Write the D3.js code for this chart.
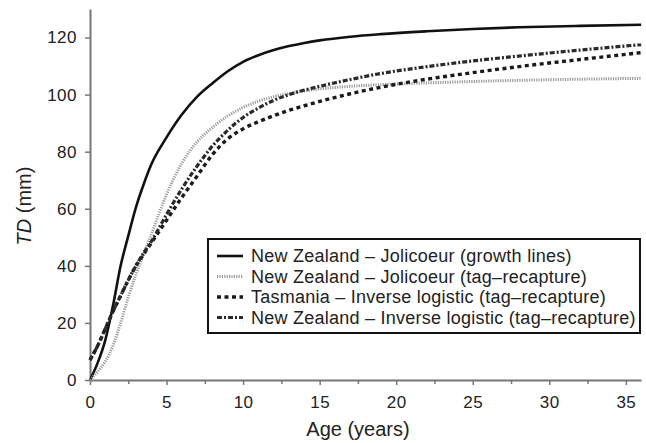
<!DOCTYPE html>
<html>
<head>
<meta charset="utf-8">
<script src="https://cdn.jsdelivr.net/npm/d3@7"></script>
<style>
  body { margin: 0; background: #fff; }
  svg { display: block; font-family: "Liberation Sans", Arial, sans-serif; }
  .tick text { font-size: 17px; fill: #222; letter-spacing: 0.5px; }
  .legend-text { font-size: 18px; fill: #222; letter-spacing: 0.25px; }
</style>
</head>
<body>
<svg width="646" height="443"></svg>
<script>
// ages (years) shared by all curves
const ages = [0, 0.5, 1, 1.5, 2, 2.5, 3, 3.5, 4, 5, 6, 7, 8, 9, 10, 11, 12, 13, 14, 15, 17, 19, 22, 25, 28, 32, 36];

// TD (mm)
const nzJolicoeurGrowth = [0, 6, 14, 26, 40, 50.5, 60.5, 68.5, 75.5, 85, 93, 99.3, 104, 108.2, 111.5, 113.8, 115.6, 117, 118.1, 119, 120.3, 121.2, 122.2, 123, 123.6, 124.1, 124.5];
const nzJolicoeurTag = [0, 3, 6.5, 12, 20, 29, 37, 44, 51, 65, 76, 83.5, 88.5, 92.5, 95.5, 97.7, 99.3, 100.4, 101.3, 102, 102.9, 103.5, 104.1, 104.6, 105, 105.4, 105.7];
const tasInverseLogistic = [7, 12, 18, 24, 29.5, 35, 40, 44, 48, 56, 64, 71.5, 79, 84.5, 88, 90.5, 92.6, 94.5, 96.1, 97.6, 100.3, 102.6, 105.4, 107.7, 109.8, 112.3, 114.7];
const nzInverseLogistic = [7, 12, 18, 24, 29.5, 35, 40, 44.5, 48.5, 58, 67, 75, 82, 87.5, 92, 95.3, 98, 100, 101.6, 102.9, 105.3, 107.4, 109.8, 111.8, 113.5, 115.6, 117.5];

const xTicks = [0, 5, 10, 15, 20, 25, 30, 35];
const xMinorTicks = [2.5, 7.5, 12.5, 17.5, 22.5, 27.5, 32.5];
const yTicks = [0, 20, 40, 60, 80, 100, 120];

const seriesNames = [
    'New Zealand \u2013 Jolicoeur (growth lines)',
    'New Zealand \u2013 Jolicoeur (tag\u2013recapture)',
    'Tasmania \u2013 Inverse logistic (tag\u2013recapture)',
    'New Zealand \u2013 Inverse logistic (tag\u2013recapture)'
];
const seriesValues = [nzJolicoeurGrowth, nzJolicoeurTag, tasInverseLogistic, nzInverseLogistic];

// line styles, same order as the series
const styles = [
    { stroke: '#111', width: 2.6, dash: null },
    { stroke: '#9a9a9a', width: 3, dash: '1.2,1.2' },
    { stroke: '#1a1a1a', width: 3.4, dash: '4,3.5' },
    { stroke: '#2a2a2a', width: 3.2, dash: '5,2,2,2' }
];

const svg = d3.select('svg');
const margin = { top: 9, right: 5, bottom: 63, left: 90 };
const height = +svg.attr('height');

const xScale = d3.scaleLinear()
    .domain([0, 36])
    .range([margin.left, margin.left + 36 * 15.31]);

const yScale = d3.scaleLinear()
    .domain([0, 130])
    .range([height - margin.bottom, margin.top]);

const axisColor = '#777';

// x axis with major and minor ticks
svg.append('g')
    .attr('transform', `translate(0, ${yScale(0)})`)
    .call(d3.axisBottom(xScale).tickValues(xTicks).tickSize(5).tickPadding(11).tickSizeOuter(0));

svg.append('g')
    .attr('transform', `translate(0, ${yScale(0)})`)
    .call(d3.axisBottom(xScale).tickValues(xMinorTicks).tickSize(4).tickFormat('').tickSizeOuter(0))
    .select('.domain').remove();

// y axis
svg.append('g')
    .attr('transform', `translate(${xScale(0)}, 0)`)
    .call(d3.axisLeft(yScale).tickValues(yTicks).tickSize(5).tickPadding(8).tickSizeOuter(0));

svg.selectAll('.domain').attr('stroke', axisColor).attr('stroke-width', 2);
svg.selectAll('.tick line').attr('stroke', axisColor).attr('stroke-width', 1.5);

// curves
const line = d3.line()
    .x(d => xScale(d[0]))
    .y(d => yScale(d[1]))
    .curve(d3.curveMonotoneX);

seriesValues.forEach((vals, i) => {
    const pts = ages.map((a, j) => [a, vals[j]]);
    svg.append('path')
        .datum(pts)
        .attr('d', line)
        .attr('fill', 'none')
        .attr('stroke', styles[i].stroke)
        .attr('stroke-width', styles[i].width)
        .attr('stroke-dasharray', styles[i].dash);
});

// axis labels
svg.append('text')
    .attr('x', 358)
    .attr('y', 436)
    .attr('text-anchor', 'middle')
    .attr('font-size', 20)
    .attr('fill', '#222')
    .text('Age (years)');

const yLabel = svg.append('text')
    .attr('transform', 'translate(31, 206) rotate(-90)')
    .attr('text-anchor', 'middle')
    .attr('font-size', 20)
    .attr('fill', '#222');
yLabel.append('tspan').attr('font-style', 'italic').text('TD');
yLabel.append('tspan').text(' (mm)');

// legend
const legend = svg.append('g').attr('transform', 'translate(208, 239)');
legend.append('rect')
    .attr('width', 432)
    .attr('height', 94)
    .attr('fill', '#fff')
    .attr('stroke', '#111')
    .attr('stroke-width', 2);

seriesNames.forEach((name, i) => {
    const y = 17 + i * 20.5;
    legend.append('line')
        .attr('x1', 9).attr('x2', 35)
        .attr('y1', y).attr('y2', y)
        .attr('stroke', styles[i].stroke)
        .attr('stroke-width', styles[i].width)
        .attr('stroke-dasharray', styles[i].dash);
    legend.append('text')
        .attr('class', 'legend-text')
        .attr('x', 43)
        .attr('y', y + 6)
        .text(name);
});
</script>
</body>
</html>
